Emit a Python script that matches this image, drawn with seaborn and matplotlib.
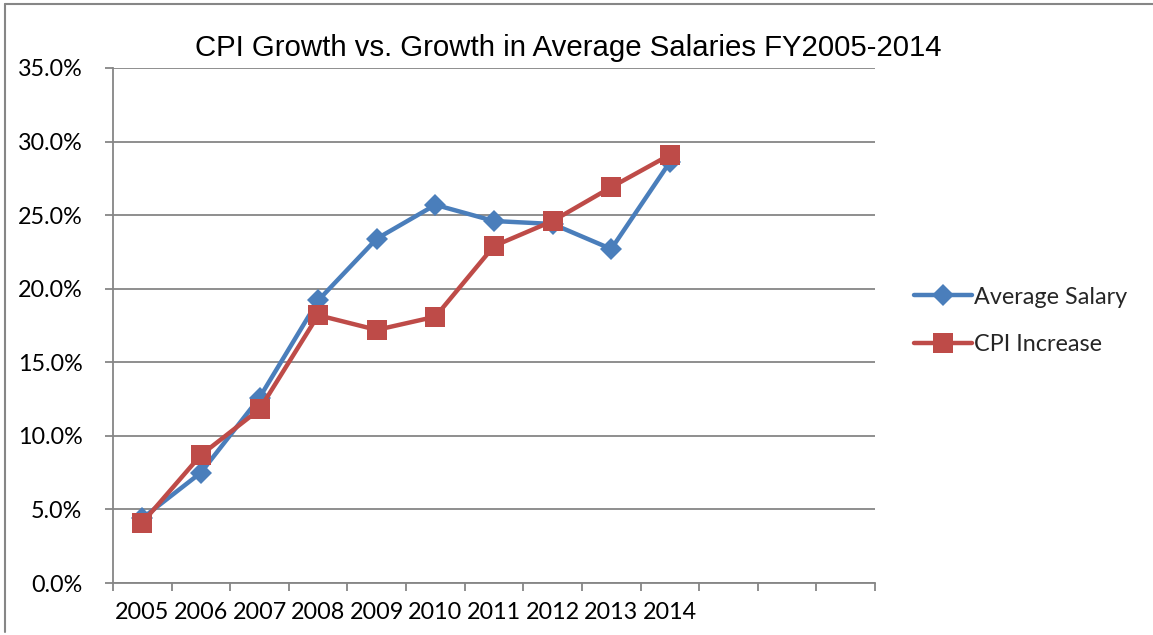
import numpy as np
import pandas as pd
import matplotlib
matplotlib.use("Agg")
import matplotlib.pyplot as plt
import seaborn as sns
from matplotlib.lines import Line2D
from matplotlib.ticker import FixedLocator, FuncFormatter

# Cumulative growth since FY2004, in percent
years = [2005, 2006, 2007, 2008, 2009, 2010, 2011, 2012, 2013, 2014]
avg_salary = [4.4, 7.5, 12.6, 19.2, 23.4, 25.7, 24.6, 24.4, 22.7, 28.6]
cpi_increase = [4.1, 8.7, 11.8, 18.2, 17.2, 18.1, 22.9, 24.6, 26.9, 29.1]
series_names = ["Average Salary", "CPI Increase"]
n_slots = 13  # category slots on the x axis (three left empty)
y_ticks = [0, 5, 10, 15, 20, 25, 30, 35]

W, H = 1153, 635
BLUE = "#4A7EBB"
RED = "#BE4B48"
GRID = "#868686"

sns.set_theme(style="white")
plt.rcParams["font.family"] = ["Lato", "DejaVu Sans"]

fig = plt.figure(figsize=(W / 100, H / 100), dpi=100)
ax = fig.add_axes([113 / W, 1 - 583 / H, (875 - 113) / W, (583 - 68) / H])

slots = list(range(len(years)))
df = pd.DataFrame({
    "slot": slots * 2,
    "value": avg_salary + cpi_increase,
    "series": [series_names[0]] * len(years) + [series_names[1]] * len(years),
})

palette = {series_names[0]: BLUE, series_names[1]: RED}
markers = {series_names[0]: "D", series_names[1]: "s"}
msizes = {series_names[0]: 11.5, series_names[1]: 14}

for name in series_names:
    sub = df[df["series"] == name]
    sns.lineplot(
        data=sub, x="slot", y="value", color=palette[name],
        marker=markers[name], markersize=msizes[name],
        markeredgewidth=0, linewidth=3.2, ax=ax, label=name, legend=False,
    )

ax.set_xlim(-0.5, n_slots - 0.5)
ax.set_ylim(0, 35)
ax.set_xlabel("")
ax.set_ylabel("")

# y axis: gridlines and percent labels
ax.yaxis.set_major_locator(FixedLocator(y_ticks))
ax.yaxis.set_major_formatter(FuncFormatter(lambda v, p: f"{v:.1f}%"))
ax.grid(axis="y", color=GRID, linewidth=1.3)
ax.grid(axis="x", visible=False)
ax.set_axisbelow(True)

# x axis: labels at category centres, tick marks at category boundaries
ax.set_xticks(slots)
ax.set_xticklabels([str(y) for y in years])
ax.set_xticks(np.arange(n_slots + 1) - 0.5, minor=True)
ax.tick_params(axis="x", which="major", length=0, pad=14, labelsize=16.8, colors="black")
ax.tick_params(axis="x", which="minor", length=6, width=1.3, direction="out", color=GRID, bottom=True)
ax.tick_params(axis="y", which="major", length=6, width=1.3, direction="out", color=GRID,
               left=True, pad=16, labelsize=16.8, labelcolor="black")

for side in ["top", "right"]:
    ax.spines[side].set_visible(False)
for side in ["left", "bottom"]:
    ax.spines[side].set_color(GRID)
    ax.spines[side].set_linewidth(1.3)

# Title
fig.text(568 / W, 1 - 48 / H, "CPI Growth vs. Growth in Average Salaries FY2005-2014",
         ha="center", va="center", fontsize=21.2, family=["Liberation Sans", "DejaVu Sans"],
         color="black")

# Legend
handles = [
    Line2D([], [], color=BLUE, marker="D", markersize=11.5, markeredgewidth=0, linewidth=3.2),
    Line2D([], [], color=RED, marker="s", markersize=14, markeredgewidth=0, linewidth=3.2),
]
fig.legend(handles, series_names, loc="center left", bbox_to_anchor=(893 / W, 1 - 321 / H),
           frameon=False, fontsize=16.8, handlelength=2.5, handletextpad=0.05,
           labelspacing=1.15)

# Chart area border
fig.add_artist(Line2D([5 / W, 1], [1 - 4 / H, 1 - 4 / H], transform=fig.transFigure,
                      color=GRID, linewidth=1.5))
fig.add_artist(Line2D([5 / W, 5 / W], [1 - 4 / H, 1 - 632 / H], transform=fig.transFigure,
                      color=GRID, linewidth=1.5))

fig.savefig("out.png", dpi=100)
